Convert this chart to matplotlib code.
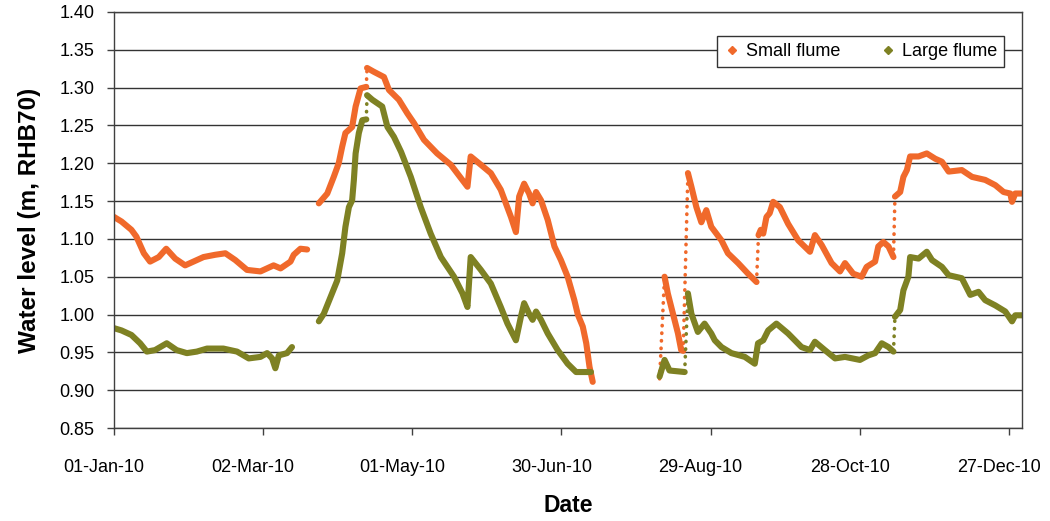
import numpy as np
import pandas as pd
import matplotlib
matplotlib.use('Agg')
import matplotlib.pyplot as plt
import matplotlib.dates as mdates
import matplotlib.transforms as mtransforms
from matplotlib.lines import Line2D
from matplotlib.ticker import MultipleLocator, FormatStrFormatter

plt.rcParams['font.family'] = ['Liberation Sans', 'DejaVu Sans']

start = pd.Timestamp('2010-01-01')
nan = np.nan

# days since 01-Jan-10, water level (m, RHB70)
small_days = [0, 3, 7, 9, 12, 14.5, 18, 21, 24.6, 28.6, 32, 36, 40.7, 44.8, 48.8, 53.5, 58.9,
              64.2, 67, 71, 72.3, 75, 77.7, 80,
              82.4, 85.8, 88.4, 90.4, 91.8, 93.1, 95.8, 97.2, 99.2, 101.5, 101.8, 104.5, 108.6,
              110.6, 114.6, 118, 120.7, 124.7, 130, 135.5, 142.2, 143.5, 147.6, 151.6, 155.6,
              159.7, 161.7, 163, 165, 167, 168.4, 169.8, 171.8, 174.5, 177.2, 179.8, 182.5, 185.2,
              186.6, 188.6, 190, 191.3, 192.6, 200,
              219.5, 221.5, 222.8, 224.9, 226.9, 228.2, 229, 230.9, 232.3, 234.3, 236.3, 238.3,
              240.3, 244.4, 247, 251.1, 255.1, 258.5, 259.3, 260.2, 261.2, 262.5, 263.8, 265.2,
              267.9, 271.2, 275.3, 280, 282, 284.7, 288.7, 292.1, 294.1, 297.4, 300.8, 302.8,
              306.2, 307.5, 309.5, 311.6, 313.6, 314.2, 316.3, 317.6, 319, 320.3, 323.7, 327,
              330.4, 333.1, 335.8, 341.1, 345.2, 350.5, 354.6, 357.9, 360.6, 361.3, 362.6, 365.3]
small_level = [1.129, 1.123, 1.112, 1.103, 1.081, 1.070, 1.076, 1.087, 1.074, 1.065, 1.070, 1.076,
               1.079, 1.081, 1.072, 1.059, 1.057, 1.065, 1.061, 1.070, 1.079, 1.087, 1.086, nan,
               1.147, 1.160, 1.182, 1.200, 1.222, 1.240, 1.248, 1.275, 1.299, 1.301, 1.326, 1.321,
               1.314, 1.297, 1.284, 1.266, 1.253, 1.231, 1.213, 1.198, 1.169, 1.209, 1.198, 1.187,
               1.165, 1.129, 1.109, 1.156, 1.173, 1.160, 1.147, 1.162, 1.151, 1.125, 1.090, 1.072,
               1.050, 1.019, 1.000, 0.984, 0.962, 0.931, 0.911, nan,
               0.915, 1.050, 1.028, 1.001, 0.975, 0.953, 0.952, 1.187, 1.169, 1.142, 1.122, 1.138,
               1.116, 1.098, 1.081, 1.068, 1.054, 1.043, 1.105, 1.112, 1.107, 1.129, 1.134, 1.149,
               1.142, 1.120, 1.098, 1.083, 1.105, 1.092, 1.068, 1.057, 1.068, 1.054, 1.050, 1.063,
               1.070, 1.090, 1.096, 1.090, 1.076, 1.156, 1.162, 1.182, 1.191, 1.209, 1.209, 1.213,
               1.206, 1.202, 1.189, 1.191, 1.182, 1.178, 1.171, 1.162, 1.160, 1.149, 1.160, 1.160]

large_days = [0, 3, 7, 10.5, 13.2, 16.5, 21.2, 25.2, 29.3, 33.3, 37.4, 44, 49.5, 54.2, 58.9, 61.6,
              63.6, 64.9, 66.3, 69.6, 71.6, 76,
              82.4, 84.4, 87.1, 89.8, 91.8, 93.1, 94.5, 95.8, 96.5, 97.2, 98.5, 99.9, 101.5, 101.8,
              103.9, 107.9, 110, 112.6, 115.5, 119.4, 123.4, 127.4, 131.5, 136.8, 140.2, 142.2,
              143.5, 147.6, 151.6, 155.6, 158.3, 161.7, 163.7, 165, 167, 168.4, 169.8, 171.8, 174.5,
              178.5, 182.5, 185.9, 191.9, 200,
              219.5, 221.5, 223.5, 229.6, 230.9, 232.3, 234.9, 237.6, 240.3, 241.7, 244.4, 248.4,
              253.8, 257.8, 259.1, 261.2, 263.2, 266.5, 271.2, 276.6, 280, 282, 286, 290.1, 294.1,
              300.1, 303.5, 306.2, 308.9, 311.6, 313.6, 314.2, 316.3, 317.6, 319.6, 320.3, 323.7,
              327, 329.1, 333.1, 335.8, 341.1, 344.5, 347.8, 350.5, 354.6, 358.6, 361.3, 362.6, 365.3]
large_level = [0.982, 0.979, 0.973, 0.962, 0.951, 0.953, 0.962, 0.953, 0.949, 0.951, 0.955, 0.955,
               0.951, 0.942, 0.944, 0.949, 0.942, 0.929, 0.946, 0.949, 0.957, nan,
               0.991, 1.001, 1.023, 1.045, 1.081, 1.116, 1.142, 1.151, 1.178, 1.213, 1.240, 1.257,
               1.258, 1.290, 1.284, 1.275, 1.248, 1.235, 1.215, 1.182, 1.142, 1.107, 1.076, 1.050,
               1.028, 1.010, 1.076, 1.059, 1.041, 1.010, 0.988, 0.966, 0.997, 1.015, 1.001, 0.993,
               1.004, 0.993, 0.975, 0.953, 0.935, 0.924, 0.924, nan,
               0.918, 0.940, 0.926, 0.924, 1.028, 1.001, 0.977, 0.988, 0.975, 0.966, 0.957, 0.949,
               0.944, 0.935, 0.962, 0.966, 0.979, 0.988, 0.975, 0.957, 0.953, 0.964, 0.953, 0.942,
               0.944, 0.940, 0.946, 0.949, 0.962, 0.957, 0.951, 0.997, 1.006, 1.032, 1.050, 1.076,
               1.074, 1.083, 1.072, 1.063, 1.052, 1.048, 1.026, 1.030, 1.019, 1.012, 1.004, 0.991,
               0.999, 0.999]

tick_days = [0, 60, 120, 180, 240, 300, 360]
series_names = ['Small flume', 'Large flume']
colors = ['#F0692B', '#7E8123']


def draw(ax, days, level, color):
    x = mdates.date2num(start) + np.asarray(days, float)
    y = np.asarray(level, float)
    with np.errstate(invalid='ignore'):
        steep = np.abs(np.diff(y)) / np.diff(x) > 0.06
    xs, ys = [x[0]], [y[0]]
    for i in range(1, len(x)):
        if steep[i - 1]:
            # fast rises show up as loose dots in the logger record
            xs.append(nan)
            ys.append(nan)
            ax.plot(x[i - 1:i + 1], y[i - 1:i + 1], color=color, lw=2.6,
                    ls=(0, (0.1, 2.0)), dash_capstyle='round')
        xs.append(x[i])
        ys.append(y[i])
    ax.plot(xs, ys, color=color, lw=4.4, solid_capstyle='round', solid_joinstyle='round')


fig = plt.figure(figsize=(10.5, 5.21), dpi=100)
ax = fig.add_axes([0.1086, 0.1785, 0.8647, 0.7985])

draw(ax, small_days, small_level, colors[0])
draw(ax, large_days, large_level, colors[1])

ax.set_ylim(0.85, 1.40)
ax.yaxis.set_major_locator(MultipleLocator(0.05))
ax.yaxis.set_major_formatter(FormatStrFormatter('%.2f'))
ax.set_xlim(mdates.date2num(start), mdates.date2num(start) + 365.3)
ax.set_xticks([mdates.date2num(start) + d for d in tick_days])
ax.xaxis.set_major_formatter(mdates.DateFormatter('%d-%b-%y'))

ax.grid(axis='y', color='#333333', lw=1.0)
ax.set_axisbelow(True)
for s in ax.spines.values():
    s.set_color('#404040')
    s.set_linewidth(1.0)
ax.tick_params(direction='out', length=5, width=1, color='#404040', labelsize=13)
ax.tick_params(axis='y', pad=9)
ax.tick_params(axis='x', pad=17)

# Excel put the date labels a little left of their ticks
shift = mtransforms.ScaledTranslation(-7.2 / 72, 0, fig.dpi_scale_trans)
for lab in ax.get_xticklabels():
    lab.set_transform(lab.get_transform() + shift)

ax.set_ylabel('Water level (m, RHB70)', fontsize=17.5, fontweight='bold', labelpad=13)
ax.set_xlabel('Date', fontsize=16.5, fontweight='bold', labelpad=13)

handles = [Line2D([], [], ls='none', marker='D', ms=4.5, color=c) for c in colors]
leg = ax.legend(handles, series_names, loc='upper right', ncol=2,
                bbox_to_anchor=(0.9805, 0.9423), borderaxespad=0, fontsize=13,
                fancybox=False, framealpha=1, edgecolor='#333333',
                handlelength=0.9, handletextpad=0.3, columnspacing=2.2,
                borderpad=0.4)
leg.get_frame().set_linewidth(1.0)

fig.savefig('out.png', dpi=100)
